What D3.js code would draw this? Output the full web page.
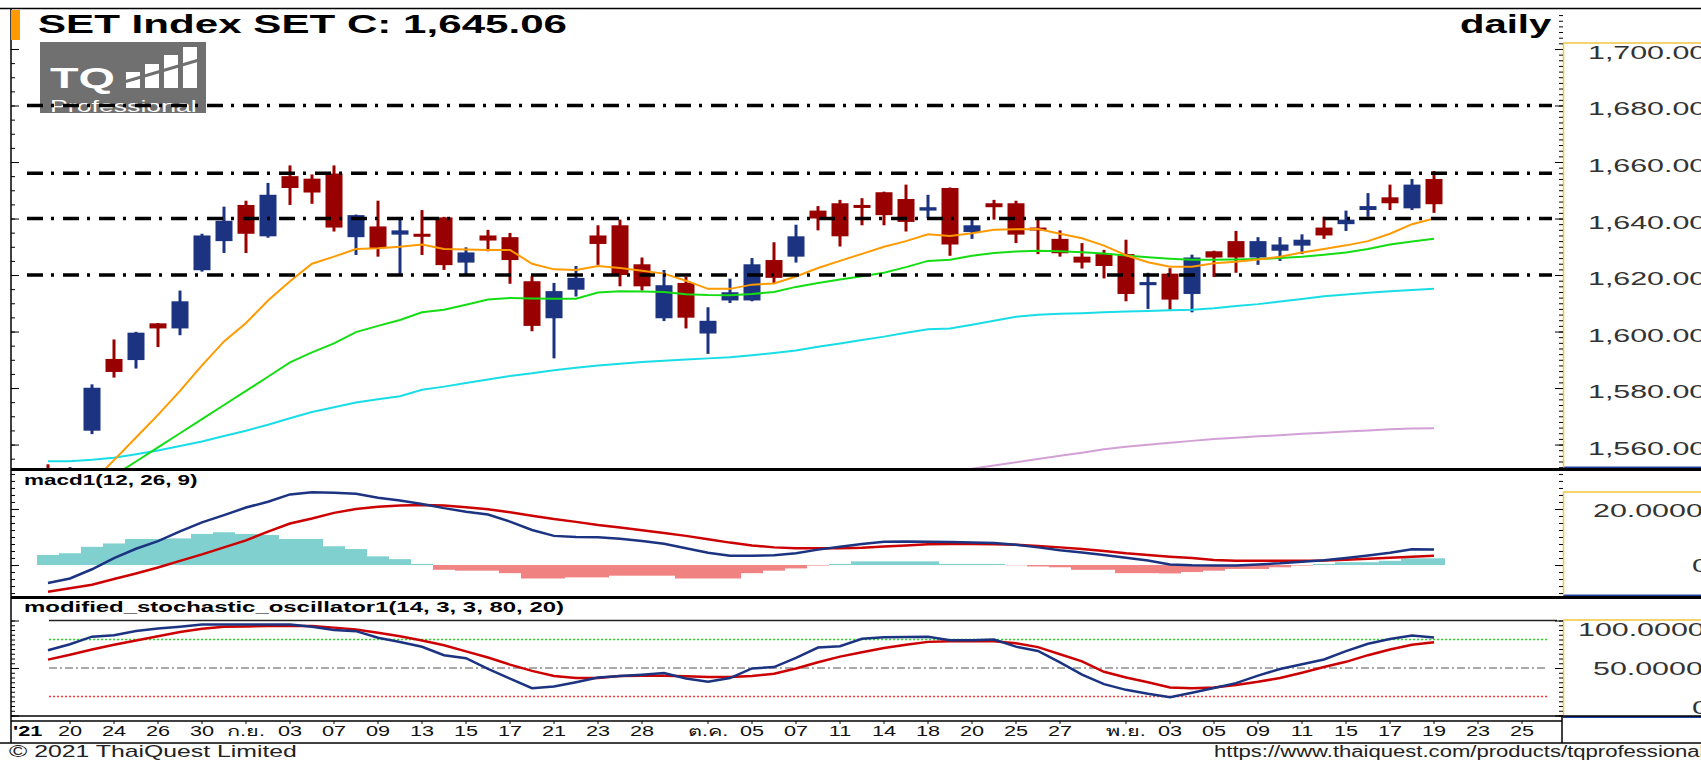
<!DOCTYPE html>
<html>
<head>
<meta charset="utf-8">
<script src="https://cdn.jsdelivr.net/npm/d3@7"></script>
<style>
  body { margin: 0; background: #fff; }
  svg { display: block; }
</style>
</head>
<body>
<div id="chart"></div>
<script>
// candles, 19 Aug .. 19 Nov 2021
const openP = [1551.5,1544,1564.9,1590.3,1589.9,1602.9,1601.1,1621.7,1632.0,1644.8,
  1633.7,1655.0,1654.1,1655.9,1633.4,1637.2,1634.3,1634.6,1640.4,1624.4,
  1634.0,1633.4,1617.8,1604.7,1614.8,1634.0,1637.6,1623.8,1604.7,1617.2,
  1599.3,1611.0,1611.0,1625.3,1626.5,1642.8,1645.4,1644.8,1649.3,1646.9,
  1642.8,1650.8,1635.2,1645.4,1645.4,1636.8,1632.8,1626.5,1627.4,1627.4,
  1616.4,1620.5,1613.3,1628.4,1632.0,1626.2,1628.6,1630.4,1636.8,1638.0,
  1643.0,1647.5,1643.6,1654.0];
const highP = [1553,1552,1581.3,1597.2,1599.9,1603.0,1614.5,1634.6,1644.2,1646.3,
  1652.6,1658.8,1655.6,1658.8,1641.4,1646.3,1640.0,1643.0,1640.6,1629.8,
  1636.0,1634.9,1619.6,1617.2,1623.2,1637.6,1639.6,1626.2,1621.8,1619.4,
  1608.6,1618.7,1626.0,1631.6,1637.8,1644.4,1646.6,1647.2,1649.5,1652.0,
  1648.4,1651.0,1639.6,1646.6,1646.3,1640.0,1635.8,1631.3,1628.9,1632.5,
  1620.8,1622.4,1627.2,1628.6,1635.6,1633.4,1633.4,1634.4,1640.6,1642.8,
  1649.0,1652.0,1654.0,1656.8];
const lowP = [1538,1540,1563.7,1583.7,1586.9,1594.5,1598.7,1621.2,1627.8,1627.8,
  1633.2,1644.8,1645.2,1635.4,1627.1,1626.5,1620.0,1627.1,1621.8,1620.0,
  1628.4,1616.9,1600.1,1590.5,1612.4,1623.6,1616.0,1614.5,1603.7,1601.1,
  1592.1,1610.1,1610.7,1616.9,1624.4,1635.8,1630.1,1637.6,1637.6,1635.4,
  1640.0,1626.8,1632.8,1639.6,1631.3,1627.4,1626.5,1622.3,1618.8,1610.7,
  1608.0,1607.7,1606.8,1619.3,1620.8,1623.6,1625.0,1627.4,1632.8,1635.6,
  1640.6,1643.0,1643.0,1642.0];
const closeP = [1544,1551.2,1580.1,1585.7,1599.6,1601.1,1610.7,1634.0,1639.2,1634.6,
  1648.4,1650.8,1649.2,1636.8,1641.2,1629.5,1635.8,1633.7,1623.5,1628.0,
  1632.2,1625.3,1602.0,1614.3,1619.0,1631.0,1620.0,1616.0,1616.4,1604.9,
  1603.8,1613.9,1623.8,1619.0,1633.7,1640.0,1633.7,1644.0,1641.2,1638.8,
  1644.0,1630.8,1637.6,1644.0,1634.3,1635.8,1627.7,1624.4,1623.2,1613.3,
  1617.5,1611.3,1626.2,1626.2,1626.2,1632.0,1630.8,1632.5,1634.0,1639.6,
  1644.4,1645.4,1652.0,1645.06];

// moving averages
const maFast = [1534,1540,1546.5,1554.5,1562.5,1570.5,1579,1588,1596.5,1603,
  1611,1617.8,1624,1626.5,1629.2,1629.5,1630,1630.8,1629.2,1629,
  1628.9,1628.9,1624,1622,1621.8,1623.2,1622.5,1621.5,1620.5,1618,
  1615.1,1615.1,1616.6,1617,1619.5,1622.5,1625,1627.5,1630,1632,
  1634.4,1633.8,1634.8,1636,1636.2,1636.3,1634.6,1633,1630.4,1627,
  1624.5,1622.9,1622.9,1624.2,1624.7,1625.5,1626.5,1628,1629.2,1630.5,
  1632,1634.6,1638,1640];
const maMid = [1530,1537,1543,1549,1554,1559,1564,1569,1574,1579,
  1584,1589.1,1592.6,1595.8,1599.8,1602,1604.1,1606.8,1607.7,1609.5,
  1611.3,1611.9,1611.7,1611.6,1611.6,1613.8,1614.3,1614.2,1614,1613.2,
  1612.9,1612.8,1613.3,1614,1615.8,1617.2,1618.4,1619.6,1620.8,1622.8,
  1625,1625.4,1626.8,1627.8,1628.3,1628.6,1628.4,1628.1,1627.6,1626.9,
  1626.3,1625.8,1625.4,1625.4,1625.5,1625.7,1626,1626.5,1627.2,1628,
  1629.2,1630.8,1631.9,1632.8];
const maSlow = [1554.1,1554.1,1554.6,1555.3,1556.6,1557.9,1559.5,1561.1,1563,1564.9,
  1567,1569.3,1571.5,1573.2,1574.9,1576,1577.1,1579.4,1580.5,1581.8,
  1583,1584.3,1585.2,1586.3,1587.2,1588,1588.6,1589.2,1589.7,1590.1,
  1590.5,1590.9,1591.6,1592.4,1593.3,1594.6,1595.8,1597,1598.2,1599.6,
  1600.8,1601.1,1602.4,1603.8,1605.2,1605.9,1606.3,1606.5,1606.8,1607.1,
  1607.3,1607.5,1607.7,1608.2,1609,1609.7,1610.6,1611.5,1612.5,1613.1,
  1613.7,1614.3,1614.7,1615.1];
const maLongFrom = 40;
const maLong = [1548.5,1549.4,1550.2,1551.4,1552.6,1553.7,1554.9,1556,1557.1,1558.3,
  1559.2,1559.9,1560.6,1561.3,1562,1562.4,1562.9,1563.3,1563.8,1564.2,
  1564.6,1565,1565.4,1565.7,1565.8];
const priceLevels = [1620, 1640, 1656, 1680];
const priceTicks = [1560, 1580, 1600, 1620, 1640, 1660, 1680, 1700];

// macd1(12, 26, 9)
const macdLine = [-6.4,-4.8,-1.5,2.5,5.8,8.5,12.0,15.2,17.8,20.5,
  22.6,25.2,26.0,25.8,25.4,24.0,23.0,21.8,20.3,19.0,
  18.0,15.5,12.5,10.4,10.0,9.9,9.4,8.6,7.6,6.0,
  4.4,3.3,3.3,3.5,4.2,5.5,6.5,7.5,8.3,8.4,
  8.3,8.2,8.0,7.9,7.2,6.3,5.3,4.5,3.6,2.6,
  1.6,0.2,-0.1,-0.2,-0.2,0.2,0.6,1.2,1.7,2.5,
  3.4,4.4,5.6,5.5];
const signalLine = [-9.5,-8.3,-7.0,-5.0,-3.0,-0.9,1.5,3.8,6.3,8.8,
  11.9,14.8,16.6,18.6,20.0,20.8,21.2,21.4,21.2,20.6,
  19.9,18.8,17.6,16.4,15.4,14.3,13.4,12.4,11.4,10.4,
  9.2,8.0,7.0,6.3,6.0,6.0,6.0,6.2,6.6,7.0,
  7.4,7.5,7.5,7.4,7.2,6.8,6.3,5.7,5.0,4.2,
  3.6,3.0,2.5,1.8,1.5,1.5,1.5,1.5,1.6,1.9,
  2.2,2.6,3.0,3.3];
const macdHist = [3.6,4.2,6.5,7.7,9.3,9.3,9.5,11.1,11.7,11.1,
  10.7,9.3,9.3,6.7,5.7,3.1,2.1,0.4,-1.7,-2.0,
  -2.0,-2.9,-4.8,-4.8,-4.4,-4.4,-3.8,-3.8,-3.8,-4.8,
  -4.8,-4.8,-2.9,-2.0,-1.2,-0.2,0.4,1.3,1.3,1.3,
  1.3,0.4,0.4,0.4,-0.1,-0.5,-0.8,-1.7,-1.7,-2.9,
  -2.9,-3.0,-2.5,-2.0,-1.4,-1.4,-0.8,-0.2,0.4,1.0,
  1.0,1.5,2.4,2.4];
const macdTicks = [0, 20];

// modified_stochastic_oscillator1(14, 3, 3, 80, 20)
const stochK = [68.7,75,83,84.5,89,91.5,93.4,95.8,95.9,95.9,
  95.9,95.9,93.4,89.9,88.8,81.8,77.4,72.4,63.5,60.3,
  49,38.8,28.8,30.5,35,40,41.7,43,44.7,39,
  35.5,39.4,49.5,51,60.6,71.5,72.9,80.7,82.3,82.6,
  82.8,79.3,79.3,80,72.5,68,56,43,33,27,
  22.8,19.3,24,29,34.1,42,49,54,59,67.7,
  75.5,80.5,84.2,82];
const stochD = [58.8,64,69.5,74.5,79,83.5,88,91.2,93.4,93.8,
  94.1,94.1,94.1,92.5,90.6,87,83.5,79,74,67.5,
  61,53.5,47,41.5,39.4,39.4,41.5,41.9,41.9,41.2,
  40.5,40.5,41.5,44,49.5,56,62,66.5,71,74.5,
  77.5,78.2,78.2,78.2,76,72,64.5,57,46,40,
  35,29.5,28.8,29.5,32.2,35.5,39.5,45,51,56.5,
  63.5,69.5,74.5,77.2];
const stochLevels = [20, 50, 80];
const stochTicks = [0, 50, 100];

// date axis: label text and the candle it sits under
const dayLabels = ['20','24','26','30','ก.ย.','03','07','09','13','15','17','21','23','28',
  'ต.ค.','05','07','11','14','18','20','25','27','พ.ย.','03','05','09','11','15','17','19','23','25'];
const dayIdx = [2,4,6,8,10,12,14,16,18,20,22,24,26,28,31,33,35,37,39,41,43,45,47,50,52,54,56,58,60,62,64,66,68];

const FONT = '"Liberation Sans", Arial, "DejaVu Sans", sans-serif';
const SX = 1.55; // the original screenshot is stretched sideways
const UP = '#1b3380', DOWN = '#990000';

const width = 1701, height = 761;
const plotRight = 1562;

const x = d3.scaleLinear().domain([1, 64]).range([48, 1434]);
const yMain = d3.scaleLinear().domain([1551.7, 1713.8]).range([468, 10]);
const yMacd = d3.scaleLinear().domain([-11.4, 33.9]).range([597, 470]);
const yStoch = d3.scaleLinear().domain([0, 100]).range([715.5, 620.5]);
const idx = d3.range(1, openP.length + 1);

const svg = d3.select('#chart').append('svg')
  .attr('width', width)
  .attr('height', height)
  .attr('font-family', FONT);

svg.append('rect').attr('width', width).attr('height', height).attr('fill', '#fff');

const defs = svg.append('defs');
const addClip = (id, x0, y0, x1, y1) => defs.append('clipPath').attr('id', id)
  .append('rect').attr('x', x0).attr('y', y0).attr('width', x1 - x0).attr('height', y1 - y0);
addClip('clip-main', 12, 9, plotRight, 468);
addClip('clip-macd', 12, 471, plotRight, 596);
addClip('clip-stoch', 12, 599, plotRight, 715);
addClip('clip-logo', 40, 42, 206, 113);

const label = (g, str, px, py, size, opt = {}) => g.append('text')
  .attr('transform', `translate(${px},${py}) scale(${opt.sx || SX},1)`)
  .attr('text-anchor', opt.anchor || 'start')
  .attr('font-size', size)
  .attr('font-weight', opt.bold ? 'bold' : null)
  .attr('fill', opt.fill || '#000')
  .text(str);

const hline = (g, y, x0, x1, color, w, dash) => g.append('line')
  .attr('x1', x0).attr('x2', x1).attr('y1', y).attr('y2', y)
  .attr('stroke', color).attr('stroke-width', w)
  .attr('stroke-dasharray', dash || null);

const tickAxis = (g, axisFn, scale, values, size) => g
  .call(axisFn(scale).tickValues(values).tickSize(size).tickFormat(''))
  .call(a => a.select('.domain').remove())
  .call(a => a.selectAll('line').attr('stroke', '#000'));

// ---------- logo ----------
const logo = svg.append('g');
logo.append('rect').attr('x', 40).attr('y', 42).attr('width', 166).attr('height', 71).attr('fill', '#707070');
label(logo, 'TQ', 50, 88, 30, { bold: true, fill: '#fff', sx: 1.56 });
logo.selectAll('rect.bar')
  .data([[126, 72], [145, 64], [164, 55], [183, 47]])
  .join('rect').attr('class', 'bar')
  .attr('x', d => d[0]).attr('y', d => d[1])
  .attr('width', 14).attr('height', d => 88 - d[1])
  .attr('fill', '#fff');
logo.append('line').attr('x1', 124).attr('y1', 82).attr('x2', 199).attr('y2', 60)
  .attr('stroke', '#707070').attr('stroke-width', 3);
label(logo.append('g').attr('clip-path', 'url(#clip-logo)'), 'Professional', 50, 112, 17, { fill: '#fff', sx: 1.57 });

// ---------- price panel ----------
const main = svg.append('g').attr('clip-path', 'url(#clip-main)');

const maLine = d3.line().defined(d => d[1] != null).x(d => x(d[0])).y(d => yMain(d[1]));
const maSeries = [
  { vals: maSlow, from: 1, color: '#18dde6' },
  { vals: maLong, from: maLongFrom, color: '#d2a0d6' },
  { vals: maMid, from: 1, color: '#14dd14' },
  { vals: maFast, from: 1, color: '#ff9a00' }
];

const candle = main.append('g').selectAll('g').data(idx).join('g');
const col = i => closeP[i - 1] >= openP[i - 1] ? UP : DOWN;
candle.append('line')
  .attr('x1', i => x(i)).attr('x2', i => x(i))
  .attr('y1', i => yMain(highP[i - 1])).attr('y2', i => yMain(lowP[i - 1]))
  .attr('stroke', col).attr('stroke-width', 3);
candle.append('rect')
  .attr('x', i => x(i) - 8.5).attr('width', 17)
  .attr('y', i => yMain(Math.max(openP[i - 1], closeP[i - 1])))
  .attr('height', i => Math.max(3, Math.abs(yMain(openP[i - 1]) - yMain(closeP[i - 1]))))
  .attr('fill', col);

main.append('g').selectAll('path').data(maSeries).join('path')
  .attr('d', s => maLine(s.vals.map((v, k) => [k + s.from, v])))
  .attr('fill', 'none').attr('stroke', s => s.color).attr('stroke-width', 2);

main.append('g').selectAll('line').data(priceLevels).join('line')
  .attr('x1', 27).attr('x2', 1552)
  .attr('y1', d => yMain(d)).attr('y2', d => yMain(d))
  .attr('stroke', '#000').attr('stroke-width', 3.5)
  .attr('stroke-dasharray', '16,8,3,9');

// ---------- macd panel ----------
const macd = svg.append('g').attr('clip-path', 'url(#clip-macd)');
macd.append('g').selectAll('rect').data(idx).join('rect')
  .attr('x', i => x(i) - 11).attr('width', 22)
  .attr('y', i => yMacd(Math.max(0, macdHist[i - 1])))
  .attr('height', i => Math.abs(yMacd(0) - yMacd(macdHist[i - 1])))
  .attr('fill', i => macdHist[i - 1] >= 0 ? '#80d0d0' : '#f08282');
const macdPath = d3.line().x((d, k) => x(k + 1)).y(d => yMacd(d));
macd.append('path').attr('d', macdPath(signalLine)).attr('fill', 'none').attr('stroke', '#cc0000').attr('stroke-width', 2.5);
macd.append('path').attr('d', macdPath(macdLine)).attr('fill', 'none').attr('stroke', UP).attr('stroke-width', 2.5);

// ---------- stochastic panel ----------
const stoch = svg.append('g').attr('clip-path', 'url(#clip-stoch)');
hline(stoch, yStoch(100), 49, 1557, '#222', 1.5);
const levelStyle = { 80: ['#22dd22', '2,2', 1.5], 50: ['#555', '8,3,2,3', 1], 20: ['#ff3030', '2,2', 1.5] };
stochLevels.forEach(v => hline(stoch, yStoch(v), 49, 1548, levelStyle[v][0], levelStyle[v][2], levelStyle[v][1]));
const stochPath = d3.line().x((d, k) => x(k + 1)).y(d => yStoch(d));
stoch.append('path').attr('d', stochPath(stochD)).attr('fill', 'none').attr('stroke', '#cc0000').attr('stroke-width', 2.5);
stoch.append('path').attr('d', stochPath(stochK)).attr('fill', 'none').attr('stroke', UP).attr('stroke-width', 2.5);

// ---------- right-hand value boxes ----------
const boxes = [
  { top: 43, bottom: 467.5 },
  { top: 492, bottom: 595.5 },
  { top: 620, bottom: 717 }
];
boxes.forEach(b => {
  svg.append('rect').attr('x', 1563).attr('y', b.top).attr('width', width - 1563).attr('height', b.bottom - b.top).attr('fill', '#fff');
  hline(svg, b.top, 1563, width, '#f2c53d', 1.5);
  hline(svg, b.bottom, 1563, width, '#2040a0', 2);
  svg.append('line').attr('x1', 1563.5).attr('x2', 1563.5).attr('y1', b.top).attr('y2', b.bottom)
    .attr('stroke', '#f2c53d').attr('stroke-width', 1.5);
});

const tickG = svg.append('g');
const minorMain = d3.range(1552, 1714, 2);
tickAxis(tickG.append('g').attr('transform', 'translate(1563,0)'), d3.axisLeft, yMain, minorMain, 4);
tickAxis(tickG.append('g').attr('transform', 'translate(1563,0)'), d3.axisLeft, yMain, priceTicks, 8);
tickAxis(tickG.append('g').attr('transform', 'translate(11,0)'), d3.axisRight, yMain, d3.range(1555, 1714, 5), 4);
tickAxis(tickG.append('g').attr('transform', 'translate(11,0)'), d3.axisRight, yMain, priceTicks, 8);
const minorMacd = d3.range(-10, 33, 2.5);
[[1563, d3.axisLeft], [11, d3.axisRight]].forEach(([px, fn]) => {
  tickAxis(tickG.append('g').attr('transform', `translate(${px},0)`), fn, yMacd, minorMacd, 4);
  tickAxis(tickG.append('g').attr('transform', `translate(${px},0)`), fn, yMacd, macdTicks, 8);
  tickAxis(tickG.append('g').attr('transform', `translate(${px},0)`), fn, yStoch, d3.range(0, 101, 5), 4);
  tickAxis(tickG.append('g').attr('transform', `translate(${px},0)`), fn, yStoch, stochTicks, 8);
});

const fmtPrice = d3.format(',.2f');
priceTicks.forEach(v => label(svg, fmtPrice(v), 1588, yMain(v) + 10, 19, { fill: '#333', sx: 1.6 }));
label(svg, '20.00000', 1593, yMacd(20) + 8, 19, { fill: '#333', sx: 1.6 });
label(svg, '0', 1692, yMacd(0) + 7, 19, { fill: '#333', sx: 1.6 });
label(svg, '100.00000', 1578, 636, 19, { fill: '#333', sx: 1.6 });
label(svg, '50.00000', 1593, yStoch(50) + 7, 19, { fill: '#333', sx: 1.6 });
label(svg, '0', 1692, 714, 19, { fill: '#333', sx: 1.6 });

// ---------- frame ----------
hline(svg, 8.5, 0, width, '#000', 1.5);
svg.append('line').attr('x1', 11).attr('x2', 11).attr('y1', 8).attr('y2', 743).attr('stroke', '#000').attr('stroke-width', 1.5);
hline(svg, 469.5, 11, width, '#000', 3);
hline(svg, 597.5, 11, width, '#000', 3);
hline(svg, 716, 11, width, '#000', 1.5);
hline(svg, 721, 11, plotRight, '#000', 1.5);
hline(svg, 743, 0, width, '#000', 1.5);
svg.append('line').attr('x1', plotRight).attr('x2', plotRight).attr('y1', 716).attr('y2', 743).attr('stroke', '#000').attr('stroke-width', 1.5);

svg.append('rect').attr('x', 11).attr('y', 10).attr('width', 9).attr('height', 30).attr('fill', '#ff9900');

// ---------- date axis ----------
const dateAxis = svg.append('g');
dateAxis.selectAll('line').data(dayIdx).join('line')
  .attr('x1', i => x(i)).attr('x2', i => x(i)).attr('y1', 721).attr('y2', 724)
  .attr('stroke', '#000');
dayLabels.forEach((t, k) => label(dateAxis, t, x(dayIdx[k]), 736, 14, { anchor: 'middle', fill: '#111' }));
label(dateAxis, "'21", 13, 736, 14, { bold: true });

// ---------- titles ----------
label(svg, 'SET Index SET C: 1,645.06', 38, 33, 26, { bold: true, sx: 1.62 });
label(svg, 'daily', 1460, 33, 26, { bold: true, sx: 1.54 });
label(svg, 'macd1(12, 26, 9)', 24, 485, 14.5, { bold: true });
svg.append('text').attr('x', 24).attr('y', 612).attr('font-size', 14.5).attr('font-weight', 'bold')
  .attr('textLength', 540).attr('lengthAdjust', 'spacingAndGlyphs')
  .text('modified_stochastic_oscillator1(14, 3, 3, 80, 20)');

label(svg, '© 2021 ThaiQuest Limited', 9, 757, 16, { fill: '#222' });
label(svg, 'https://www.thaiquest.com/products/tqprofessional', 1214, 757, 16, { fill: '#222', sx: 1.38 });
</script>
</body>
</html>
